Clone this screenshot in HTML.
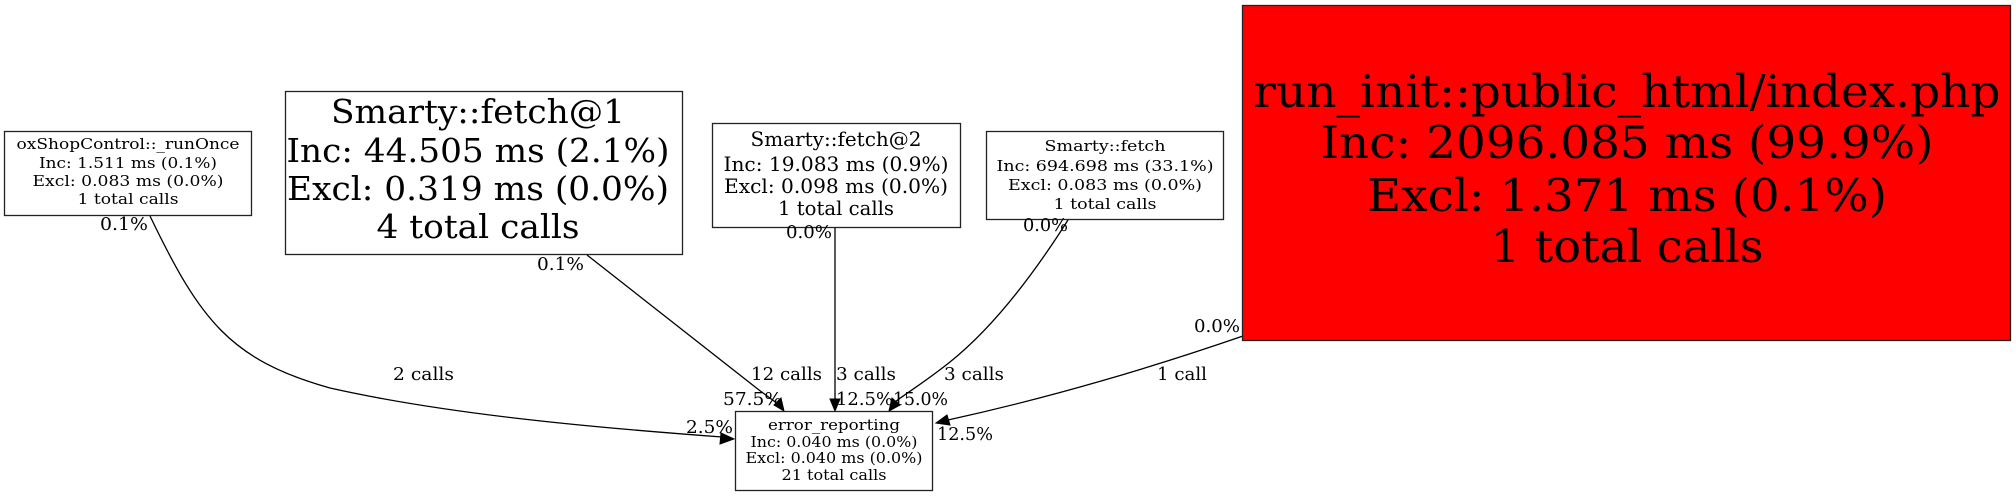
<!DOCTYPE html>
<html><head><meta charset="utf-8"><style>
html,body{margin:0;padding:0;background:#fff;}
svg{display:block;}
text{font-family:"DejaVu Serif","Liberation Serif",serif;fill:#000;}
</style></head><body>
<svg width="2016" height="496" viewBox="0 0 2016 496" xmlns="http://www.w3.org/2000/svg">
<rect width="2016" height="496" fill="#fff"/>
<g fill="none" stroke="#000" stroke-width="1.3">
  <path d="M150,216 C200,320 230,360 330,388 C450,415 600,428 722,437"/>
  <path d="M587,255 L759,390 L778,404"/>
  <path d="M835,228 L835,400"/>
  <path d="M1068,220 C1030,280 990,330 950,362 C925,382 905,394 895,402"/>
  <path d="M1243,336 C1130,375 1030,402 948,420"/>
</g>
<g fill="#000" stroke="#000" stroke-width="1">
  <polygon points="734,439 721,433 720,444"/>
  <polygon points="784,411 774,405 781,398"/>
  <polygon points="835,411 830,399 840,399"/>
  <polygon points="889,411 892,398 900,405"/>
  <polygon points="936,423 947,415 950,425"/>
</g>
<g stroke="#222" stroke-width="1.3">
  <rect x="4.5" y="131.5" width="247" height="84" fill="#fff"/>
  <rect x="285.5" y="91.5" width="397" height="163" fill="#fff"/>
  <rect x="712.5" y="123.5" width="248" height="104" fill="#fff"/>
  <rect x="986.5" y="131.5" width="237" height="88" fill="#fff"/>
  <rect x="1242.5" y="5.5" width="768" height="335" fill="#ff0000"/>
  <rect x="735.5" y="411.5" width="197" height="79" fill="#fff"/>
</g>
<g text-anchor="middle">
  <text x="128" y="149" font-size="15" textLength="223" lengthAdjust="spacingAndGlyphs">oxShopControl::_runOnce</text>
  <text x="128" y="168" font-size="15" textLength="178" lengthAdjust="spacingAndGlyphs">Inc: 1.511 ms (0.1%)</text>
  <text x="128" y="186" font-size="15" textLength="191" lengthAdjust="spacingAndGlyphs">Excl: 0.083 ms (0.0%)</text>
  <text x="128" y="204" font-size="15" textLength="101" lengthAdjust="spacingAndGlyphs">1 total calls</text>

  <text x="478" y="123" font-size="33" textLength="294" lengthAdjust="spacingAndGlyphs">Smarty::fetch@1</text>
  <text x="478" y="162" font-size="33" textLength="383" lengthAdjust="spacingAndGlyphs">Inc: 44.505 ms (2.1%)</text>
  <text x="478" y="200" font-size="33" textLength="382" lengthAdjust="spacingAndGlyphs">Excl: 0.319 ms (0.0%)</text>
  <text x="478" y="238" font-size="33" textLength="203" lengthAdjust="spacingAndGlyphs">4 total calls</text>

  <text x="836" y="146" font-size="20" textLength="171" lengthAdjust="spacingAndGlyphs">Smarty::fetch@2</text>
  <text x="836" y="171" font-size="20" textLength="225" lengthAdjust="spacingAndGlyphs">Inc: 19.083 ms (0.9%)</text>
  <text x="836" y="193" font-size="20" textLength="224" lengthAdjust="spacingAndGlyphs">Excl: 0.098 ms (0.0%)</text>
  <text x="836" y="215" font-size="20" textLength="116" lengthAdjust="spacingAndGlyphs">1 total calls</text>

  <text x="1105" y="151" font-size="15" textLength="121" lengthAdjust="spacingAndGlyphs">Smarty::fetch</text>
  <text x="1105" y="171" font-size="15" textLength="217" lengthAdjust="spacingAndGlyphs">Inc: 694.698 ms (33.1%)</text>
  <text x="1105" y="190" font-size="15" textLength="194" lengthAdjust="spacingAndGlyphs">Excl: 0.083 ms (0.0%)</text>
  <text x="1105" y="209" font-size="15" textLength="103" lengthAdjust="spacingAndGlyphs">1 total calls</text>

  <text x="1627" y="107" font-size="45" textLength="747" lengthAdjust="spacingAndGlyphs">run_init::public_html/index.php</text>
  <text x="1627" y="158" font-size="45" textLength="613" lengthAdjust="spacingAndGlyphs">Inc: 2096.085 ms (99.9%)</text>
  <text x="1627" y="211" font-size="45" textLength="520" lengthAdjust="spacingAndGlyphs">Excl: 1.371 ms (0.1%)</text>
  <text x="1627" y="262" font-size="45" textLength="273" lengthAdjust="spacingAndGlyphs">1 total calls</text>

  <text x="834" y="430" font-size="15" fill="#222" textLength="132" lengthAdjust="spacingAndGlyphs">error_reporting</text>
  <text x="834" y="447" font-size="15" fill="#222" textLength="167" lengthAdjust="spacingAndGlyphs">Inc: 0.040 ms (0.0%)</text>
  <text x="834" y="463" font-size="15" fill="#222" textLength="177" lengthAdjust="spacingAndGlyphs">Excl: 0.040 ms (0.0%)</text>
  <text x="834" y="480" font-size="15" fill="#222" textLength="105" lengthAdjust="spacingAndGlyphs">21 total calls</text>
</g>
<g font-size="18">
  <text x="100" y="230" textLength="48" lengthAdjust="spacingAndGlyphs">0.1%</text>
  <text x="537" y="270" textLength="47" lengthAdjust="spacingAndGlyphs">0.1%</text>
  <text x="786" y="238" textLength="46" lengthAdjust="spacingAndGlyphs">0.0%</text>
  <text x="1023" y="231" textLength="45" lengthAdjust="spacingAndGlyphs">0.0%</text>
  <text x="1194" y="332" textLength="46" lengthAdjust="spacingAndGlyphs">0.0%</text>
  <text x="393" y="380" textLength="61" lengthAdjust="spacingAndGlyphs">2 calls</text>
  <text x="751" y="380" textLength="71" lengthAdjust="spacingAndGlyphs">12 calls</text>
  <text x="836" y="380" textLength="60" lengthAdjust="spacingAndGlyphs">3 calls</text>
  <text x="944" y="380" textLength="60" lengthAdjust="spacingAndGlyphs">3 calls</text>
  <text x="1157" y="380" textLength="50" lengthAdjust="spacingAndGlyphs">1 call</text>
  <text x="723" y="405" textLength="59" lengthAdjust="spacingAndGlyphs">57.5%</text>
  <text x="836" y="405" textLength="57" lengthAdjust="spacingAndGlyphs">12.5%</text>
  <text x="893" y="405" textLength="55" lengthAdjust="spacingAndGlyphs">15.0%</text>
  <text x="686" y="433" textLength="47" lengthAdjust="spacingAndGlyphs">2.5%</text>
  <text x="937" y="440" textLength="56" lengthAdjust="spacingAndGlyphs">12.5%</text>
</g>
</svg>
</body></html>
